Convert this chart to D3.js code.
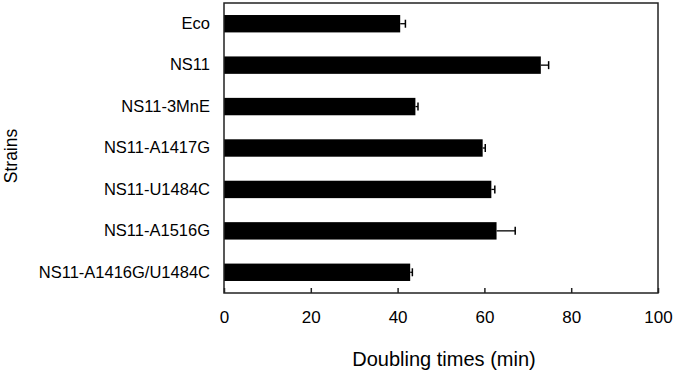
<!DOCTYPE html>
<html>
<head>
<meta charset="utf-8">
<script src="https://cdn.jsdelivr.net/npm/d3@7"></script>
<style>
  body { margin: 0; background: #fff; }
  text { font-family: "Liberation Sans", Arial, sans-serif; fill: #000; }
</style>
</head>
<body>
<script>
var width = 675
var height = 373

var strains = ["Eco", "NS11", "NS11-3MnE", "NS11-A1417G", "NS11-U1484C", "NS11-A1516G", "NS11-A1416G/U1484C"]
var times = [40.6, 73.0, 44.1, 59.6, 61.6, 62.8, 42.9]
var errors = [1.2, 1.8, 0.6, 0.6, 0.8, 4.3, 0.5]
var xTicks = [0, 20, 40, 60, 80, 100]

var plotLeft = 224, plotRight = 658, plotTop = 3, plotBottom = 293

var svg = d3.select("body").append("svg")
    .attr("width", width)
    .attr("height", height)

var x = d3.scaleLinear().domain([0, 100]).range([plotLeft, plotRight])
var y = d3.scaleBand().domain(strains).range([plotTop, plotBottom]).paddingInner(0.58).paddingOuter(0.29)

var data = strains.map(function(s, i){ return { name: s, value: times[i], err: errors[i] } })

// bars
svg.selectAll("rect.bar").data(data).enter()
    .append("rect")
    .attr("class", "bar")
    .attr("x", x(0))
    .attr("y", function(d){ return y(d.name) })
    .attr("width", function(d){ return x(d.value) - x(0) })
    .attr("height", y.bandwidth())
    .attr("fill", "#000")

// error bars (one-sided)
var eb = svg.selectAll("g.err").data(data).enter().append("g").attr("class", "err")
eb.append("line")
    .attr("x1", function(d){ return x(d.value) })
    .attr("x2", function(d){ return x(d.value + d.err) })
    .attr("y1", function(d){ return y(d.name) + y.bandwidth() / 2 })
    .attr("y2", function(d){ return y(d.name) + y.bandwidth() / 2 })
    .attr("stroke", "#000").attr("stroke-width", 1.3)
eb.append("line")
    .attr("x1", function(d){ return x(d.value + d.err) })
    .attr("x2", function(d){ return x(d.value + d.err) })
    .attr("y1", function(d){ return y(d.name) + y.bandwidth() / 2 - 4 })
    .attr("y2", function(d){ return y(d.name) + y.bandwidth() / 2 + 4 })
    .attr("stroke", "#000").attr("stroke-width", 1.5)

// frame
svg.append("rect")
    .attr("x", plotLeft).attr("y", plotTop)
    .attr("width", plotRight - plotLeft).attr("height", plotBottom - plotTop)
    .attr("fill", "none").attr("stroke", "#222").attr("stroke-width", 1.5)

// x axis ticks (inward) and labels
var xAxis = svg.append("g").attr("transform", "translate(0," + plotBottom + ")")
    .call(d3.axisBottom(x).tickValues(xTicks).tickSizeInner(-5).tickSizeOuter(0).tickPadding(18))
xAxis.select(".domain").remove()
xAxis.selectAll(".tick line").attr("stroke", "#222").attr("stroke-width", 1.5)
xAxis.selectAll(".tick text")
    .style("font-size", "17px")
    .style("font-family", "'Liberation Sans', Arial, sans-serif")
    .attr("fill", "#000")

// y labels
var yAxis = svg.append("g").attr("transform", "translate(" + plotLeft + ",0)")
    .call(d3.axisLeft(y).tickSize(0).tickPadding(14))
yAxis.select(".domain").remove()
yAxis.selectAll(".tick text")
    .style("font-size", "16.5px")
    .style("font-family", "'Liberation Sans', Arial, sans-serif")
    .attr("fill", "#000")

// axis titles
svg.append("text")
    .attr("x", (plotLeft + plotRight) / 2 + 3)
    .attr("y", 366)
    .attr("text-anchor", "middle")
    .style("font-size", "20px")
    .text("Doubling times (min)")

svg.append("text")
    .attr("transform", "translate(17," + 156 + ") rotate(-90)")
    .attr("text-anchor", "middle")
    .style("font-size", "17.5px")
    .text("Strains")
</script>
</body>
</html>
